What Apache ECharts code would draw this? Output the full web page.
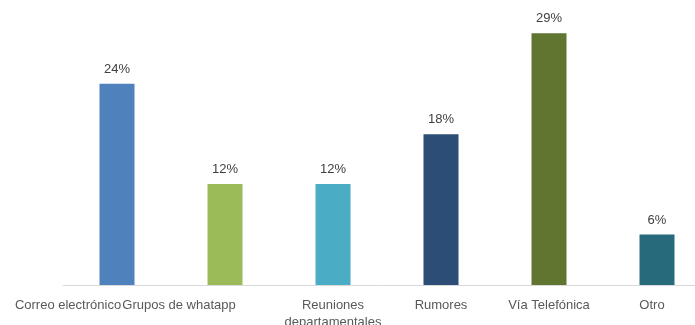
<!DOCTYPE html>
<html>
<head>
<meta charset="utf-8">
<script src="https://cdn.jsdelivr.net/npm/echarts@6/dist/echarts.min.js"></script>
<style>
  html, body { margin: 0; padding: 0; background: #ffffff; }
  #chart { width: 695px; height: 325px; }
</style>
</head>
<body>
<div id="chart"></div>
<script>
// Canales de comunicación (porcentaje de respuestas)
const categories = ['Correo electrónico', 'Grupos de whatapp', 'Reuniones departamentales', 'Rumores', 'Vía Telefónica', 'Otro'];
const percentages = [23.5, 11.8, 11.8, 17.6, 29.4, 5.9];
const barColors = ['#4F81BD', '#9BBB59', '#4BACC6', '#2C4D75', '#5F7530', '#276A7C'];

// Horizontal nudge (px) of individual axis labels; positive shifts left
const labelShiftLeft = [49, 46, 0, 0, 0, 5];

const FONT = '"Liberation Sans", Arial, sans-serif';

const rich = {};
labelShiftLeft.forEach((s, i) => {
  rich['l' + i] = {
    fontFamily: FONT, fontSize: 13, color: '#595959', lineHeight: 17,
    padding: [0, 2 * s, 0, 0]
  };
});

const chart = echarts.init(document.getElementById('chart'), null, { renderer: 'canvas' });
chart.setOption({
  animation: false,
  backgroundColor: '#ffffff',
  // plot area runs past the right edge of the canvas; labels may overflow the bottom
  grid: { left: 63, width: 648, top: 28, height: 257, containLabel: false, outerBoundsMode: 'none' },
  xAxis: {
    type: 'category',
    data: categories,
    axisLine: { show: true, lineStyle: { color: '#d9d9d9', width: 1 } },
    axisTick: { show: false },
    axisLabel: {
      interval: 0,
      margin: 12,
      fontFamily: FONT,
      fontSize: 13,
      color: '#595959',
      formatter: function (value, idx) {
        const text = value === 'Reuniones departamentales' ? value.replace(' ', '\n') : value;
        return text.split('\n').map(t => '{l' + idx + '|' + t + '}').join('\n');
      },
      rich: rich
    }
  },
  yAxis: {
    type: 'value',
    min: 0,
    max: 30,
    show: false,
    splitLine: { show: false }
  },
  series: [{
    type: 'bar',
    barWidth: 35,
    data: percentages.map((v, i) => ({ value: v, itemStyle: { color: barColors[i] } })),
    label: {
      show: true,
      position: 'top',
      distance: 8,
      fontFamily: FONT,
      fontSize: 13,
      color: '#404040',
      formatter: p => Math.round(p.value) + '%'
    }
  }]
});
</script>
</body>
</html>
